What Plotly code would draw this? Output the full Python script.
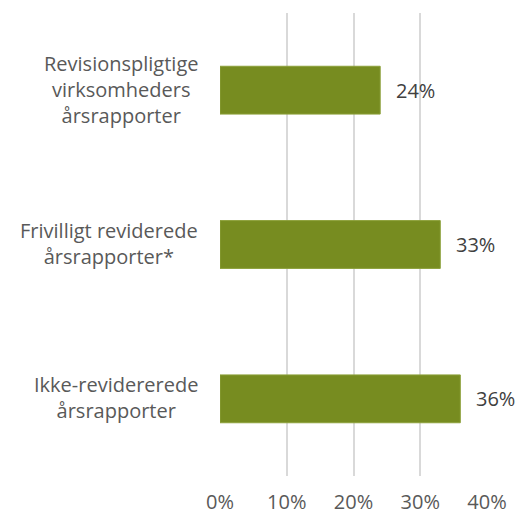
import plotly.graph_objects as go

categories = ["Revisionspligtige<br>virksomheders<br>årsrapporter",
              "Frivilligt reviderede<br>årsrapporter*",
              "Ikke-revidererede<br>årsrapporter"]
values = [0.24, 0.33, 0.36]
labels = ["24%", "33%", "36%"]
tick_vals = [0, 0.1, 0.2, 0.3, 0.4]
tick_text = ["0%", "10%", "20%", "30%", "40%"]

FONT = "Open Sans, Liberation Sans, sans-serif"

fig = go.Figure(go.Bar(
    x=values, y=categories, orientation="h",
    marker=dict(color="#778C20", line=dict(color="#8CA03A", width=1)),
    width=0.31, hoverinfo="skip",
))

annotations = []
for c, v, t in zip(categories, values, labels):
    annotations.append(dict(x=v, y=c, xref="x", yref="y", text=t, showarrow=False,
                            xanchor="left", xshift=14,
                            font=dict(family=FONT, size=20, color="#404040")))
    annotations.append(dict(x=0, y=c, xref="paper", yref="y", text=c, showarrow=False,
                            xanchor="right", xshift=-20, yshift=1, align="center",
                            font=dict(family=FONT, size=20, color="#595959")))

fig.update_layout(
    width=519, height=515,
    margin=dict(l=220, r=32, t=13, b=39, autoexpand=False),
    paper_bgcolor="white", plot_bgcolor="white",
    showlegend=False,
    annotations=annotations,
    xaxis=dict(range=[0, 0.4], tickvals=tick_vals, ticktext=tick_text,
               showgrid=True, gridcolor="#D9D9D9", gridwidth=1.5,
               zeroline=False, showline=False, automargin=False,
               ticks="outside", ticklen=8, tickcolor="rgba(0,0,0,0)",
               tickfont=dict(family=FONT, size=20, color="#595959")),
    yaxis=dict(autorange="reversed", showticklabels=False, showgrid=False,
               zeroline=False, showline=False, automargin=False),
)

fig.write_html("out.html")
